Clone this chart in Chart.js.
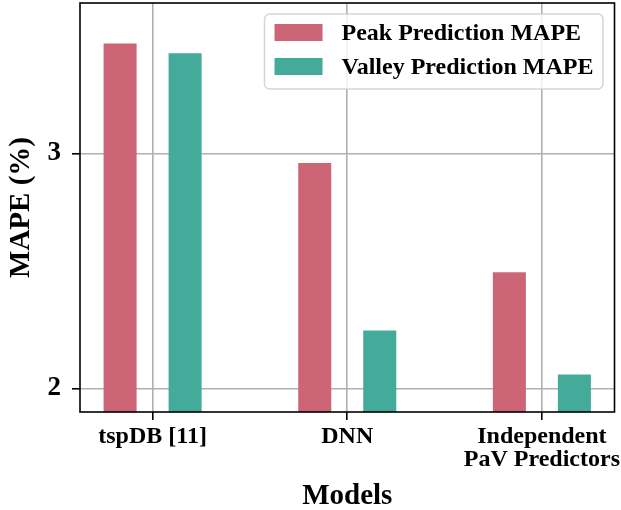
<!DOCTYPE html>
<html>
<head>
<meta charset="utf-8">
<script src="https://cdn.jsdelivr.net/npm/chart.js@4/dist/chart.umd.min.js"></script>
<style>
  html, body { margin: 0; padding: 0; background: #fff; }
  #wrap { width: 621px; height: 510px; }
</style>
</head>
<body>
<div id="wrap"><canvas id="mapeChart"></canvas></div>
<script>
// values
const categories = ['tspDB [11]', 'DNN', ['Independent', 'PaV Predictors']];
const peakMape = [3.468, 2.959, 2.495];
const valleyMape = [3.426, 2.247, 2.060];
const yTicks = [2, 3];

const serif = '"Liberation Serif", "Times New Roman", serif';
const peakColor = '#CC6677';
const valleyColor = '#44AA99';

// black frame round the plot area (drawn over the bars, like matplotlib spines)
const framePlugin = {
    id: 'frame',
    afterDatasetsDraw(chart) {
        const {ctx, chartArea: a} = chart;
        ctx.save();
        ctx.strokeStyle = '#000';
        ctx.lineWidth = 1.6;
        ctx.strokeRect(a.left, a.top, a.right - a.left, a.bottom - a.top);
        ctx.restore();
    }
};

// matplotlib style legend: rounded, semi transparent box in the upper right
const legendBoxPlugin = {
    id: 'legendBox',
    afterDraw(chart) {
        const {ctx, chartArea: a} = chart;
        const sets = chart.data.datasets;
        ctx.save();
        ctx.font = 'bold 24px ' + serif;
        const textW = Math.max(...sets.map(d => ctx.measureText(d.label).width));
        const padL = 10, swW = 48, swH = 17, gap = 19, padR = 9.5, padT = 10, pitch = 34, padB = 14;
        const w = padL + swW + gap + textW + padR;
        const h = padT + pitch * (sets.length - 1) + swH + padB;
        const x = a.right - 11.5 - w;
        const y = a.top + 11;
        const r = 5;
        ctx.beginPath();
        ctx.moveTo(x + r, y);
        ctx.arcTo(x + w, y, x + w, y + h, r);
        ctx.arcTo(x + w, y + h, x, y + h, r);
        ctx.arcTo(x, y + h, x, y, r);
        ctx.arcTo(x, y, x + w, y, r);
        ctx.closePath();
        ctx.fillStyle = 'rgba(255,255,255,0.8)';
        ctx.fill();
        ctx.strokeStyle = 'rgba(204,204,204,0.8)';
        ctx.lineWidth = 1.5;
        ctx.stroke();
        sets.forEach((d, i) => {
            const sy = y + padT + i * pitch;
            ctx.fillStyle = d.backgroundColor;
            ctx.fillRect(x + padL, sy, swW, swH);
            ctx.fillStyle = '#000';
            ctx.textBaseline = 'middle';
            ctx.textAlign = 'left';
            ctx.fillText(d.label, x + padL + swW + gap, sy + swH / 2 + 1);
        });
        ctx.restore();
    }
};

const ctx = document.getElementById('mapeChart');

new Chart(ctx, {
    type: 'bar',
    data: {
        datasets: [{
            label: 'Peak Prediction MAPE',
            data: peakMape.map((v, i) => ({x: i, y: v})),
            backgroundColor: peakColor
        }, {
            label: 'Valley Prediction MAPE',
            data: valleyMape.map((v, i) => ({x: i, y: v})),
            backgroundColor: valleyColor
        }]
    },
    options: {
        responsive: true,
        maintainAspectRatio: false,
        animation: false,
        layout: {
            padding: {
                top: 3,
                right: 6.5,
                left: 0,
                bottom: 0
            }
        },
        datasets: {
            bar: {
                categoryPercentage: 0.668,
                barPercentage: 0.508
            }
        },
        scales: {
            x: {
                type: 'linear',
                offset: false,
                min: -0.373,
                max: 2.373,
                afterBuildTicks: (scale) => {
                    scale.ticks = categories.map((c, i) => ({value: i}));
                },
                afterFit: (scale) => {
                    scale.height = 98;
                    scale.paddingLeft = 0;
                    scale.paddingRight = 0;
                },
                ticks: {
                    callback: (value) => categories[value],
                    color: '#000',
                    padding: 5,
                    maxRotation: 0,
                    autoSkip: false,
                    font: {
                        family: serif,
                        size: 24,
                        weight: 'bold',
                        lineHeight: 0.98
                    }
                },
                grid: {
                    offset: false,
                    color: '#b0b0b0',
                    lineWidth: 1.6,
                    tickColor: '#000',
                    tickWidth: 1.6,
                    tickLength: 8
                },
                border: {
                    display: false
                },
                title: {
                    display: true,
                    text: 'Models',
                    color: '#000',
                    padding: {top: 0, bottom: -1},
                    font: {
                        family: serif,
                        size: 29,
                        weight: 'bold',
                        lineHeight: 1
                    }
                }
            },
            y: {
                min: 1.9,
                max: 3.64,
                afterBuildTicks: (scale) => {
                    scale.ticks = yTicks.map(v => ({value: v}));
                },
                afterFit: (scale) => {
                    scale.width = 80;
                    scale.paddingTop = 0;
                    scale.paddingBottom = 0;
                },
                ticks: {
                    color: '#000',
                    padding: 11,
                    font: {
                        family: serif,
                        size: 27,
                        weight: 'bold'
                    }
                },
                grid: {
                    color: '#b0b0b0',
                    lineWidth: 1.6,
                    tickColor: '#000',
                    tickWidth: 1.6,
                    tickLength: 8
                },
                border: {
                    display: false
                },
                title: {
                    display: true,
                    text: 'MAPE (%)',
                    color: '#000',
                    padding: {top: 7, bottom: 0},
                    font: {
                        family: serif,
                        size: 29,
                        weight: 'bold',
                        lineHeight: 1
                    }
                }
            }
        },
        plugins: {
            legend: {
                display: false
            },
            tooltip: {
                enabled: false
            }
        }
    },
    plugins: [framePlugin, legendBoxPlugin]
});
</script>
</body>
</html>
